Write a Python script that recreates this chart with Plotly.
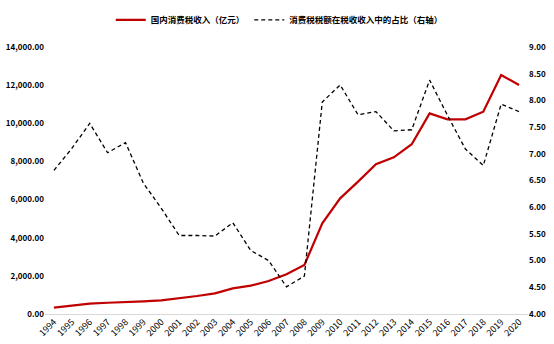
import plotly.graph_objects as go

years = [str(y) for y in range(1994, 2021)]
tax_income = [330, 420, 540, 590, 645, 665, 715, 820, 945, 1085, 1345, 1485, 1730,
              2080, 2570, 4755, 6065, 6940, 7850, 8215, 8900, 10520, 10210, 10210,
              10610, 12530, 12010]
tax_share = [6.69, 7.10, 7.57, 7.02, 7.21, 6.45, 5.98, 5.47, 5.47, 5.46, 5.71, 5.19,
             5.00, 4.51, 4.71, 7.97, 8.29, 7.73, 7.79, 7.43, 7.45, 8.38, 7.72, 7.09,
             6.78, 7.93, 7.79]

left_ticks = [0, 2000, 4000, 6000, 8000, 10000, 12000, 14000]
left_labels = [f"{v:,.2f}" for v in left_ticks]
right_ticks = [4.0, 4.5, 5.0, 5.5, 6.0, 6.5, 7.0, 7.5, 8.0, 8.5, 9.0]
right_labels = [f"{v:.2f}" for v in right_ticks]

font_family = "Noto Sans CJK SC, Microsoft YaHei, sans-serif"

fig = go.Figure()
fig.add_trace(go.Scatter(
    x=years, y=tax_income, name="国内消费税收入（亿元）", mode="lines",
    line=dict(color="#C00000", width=2.2), yaxis="y"))
fig.add_trace(go.Scatter(
    x=years, y=tax_share, name="消费税税额在税收收入中的占比（右轴）", mode="lines",
    line=dict(color="#000000", width=1.3, dash="4px,3px"), yaxis="y2"))

tick_font = dict(size=8, color="#000", weight="bold")

fig.update_layout(
    width=554, height=344,
    margin=dict(l=45, r=26, t=47, b=30),
    paper_bgcolor="white", plot_bgcolor="white",
    font=dict(family=font_family, size=8, color="#000"),
    showlegend=True,
    legend=dict(orientation="h", x=0.485, xanchor="center", xref="paper",
                y=0.942, yanchor="middle", yref="container",
                font=dict(size=8.5, color="#000", weight="bold"),
                traceorder="normal"),
    xaxis=dict(type="category", tickangle=-45, showgrid=False, zeroline=False,
               showline=False, ticks="", tickfont=dict(size=9, color="#000"),
               range=[-0.5, 26.5], automargin=False),
    yaxis=dict(range=[0, 14000], tickvals=left_ticks, ticktext=left_labels,
               showgrid=False, zeroline=True, zerolinecolor="#D9D9D9", zerolinewidth=1,
               showline=False, ticks="", tickfont=tick_font, automargin=False),
    yaxis2=dict(range=[4, 9], tickvals=right_ticks, ticktext=right_labels, overlaying="y",
                side="right", showgrid=False, zeroline=False, showline=False, ticks="",
                tickfont=tick_font, automargin=False),
)

fig.write_html("out.html")
